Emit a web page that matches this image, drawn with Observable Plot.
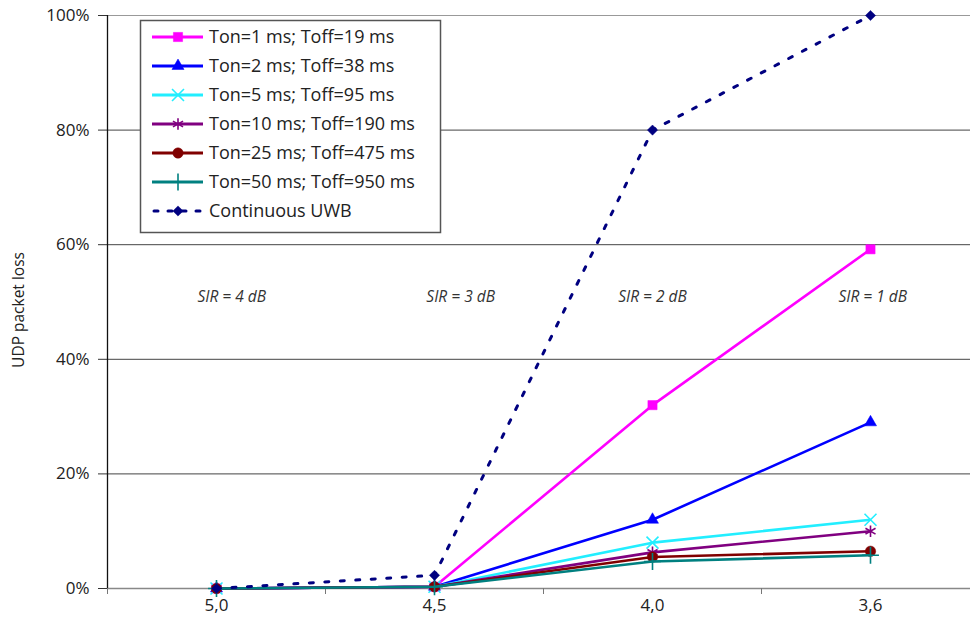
<!DOCTYPE html>
<html><head><meta charset="utf-8">
<script src="https://cdn.jsdelivr.net/npm/d3@7"></script>
<script src="https://cdn.jsdelivr.net/npm/@observablehq/plot@0.6"></script>
<style>
body{margin:0;background:#fff}
#chart{width:970px;height:637px;overflow:hidden}
</style>
</head><body><div id="chart"></div>
<script>
// ---- data ----
const xLabels = ["5,0", "4,5", "4,0", "3,6"];
const seriesNames = [
  "Ton=1 ms; Toff=19 ms",
  "Ton=2 ms; Toff=38 ms",
  "Ton=5 ms; Toff=95 ms",
  "Ton=10 ms; Toff=190 ms",
  "Ton=25 ms; Toff=475 ms",
  "Ton=50 ms; Toff=950 ms",
  "Continuous UWB"
];
const ton1  = [0, 0.003, 0.32, 0.592];
const ton2  = [0, 0.003, 0.12, 0.29];
const ton5  = [0, 0.003, 0.08, 0.12];
const ton10 = [0, 0.003, 0.063, 0.10];
const ton25 = [0, 0.003, 0.055, 0.065];
const ton50 = [0, 0.003, 0.047, 0.058];
const continuous = [0, 0.023, 0.80, 1.00];
const seriesValues = [ton1, ton2, ton5, ton10, ton25, ton50, continuous];
const sirLabels = ["SIR = 4 dB", "SIR = 3 dB", "SIR = 2 dB", "SIR = 1 dB"];
const sirX = [0.07, 0.12, 0.0, 0.01];
const sirY = 0.508;
const yTicks = [0, 0.2, 0.4, 0.6, 0.8, 1.0];

// ---- styles ----
const styles = [
  {color: "#FF00FF", symbol: "square",   filled: true,  r: 5.2, dash: null},
  {color: "#0000FF", symbol: "triangle", filled: true,  r: 4.5, dash: null},
  {color: "#22EEFF", symbol: "times",    filled: false, r: 5.5, dash: null},
  {color: "#800080", symbol: "asterisk", filled: false, r: 5.5, dash: null},
  {color: "#800000", symbol: "circle",   filled: true,  r: 5.2, dash: null},
  {color: "#008080", symbol: "plus",     filled: false, r: 5.5, dash: null},
  {color: "#000080", symbol: "diamond2", filled: true,  r: 4.6, dash: "4,11.5"}
];

const FONT = "'Open Sans', Lato, sans-serif";

const marks = [];
marks.push(Plot.ruleY(yTicks.filter(d => d > 0 && d < 1), {stroke: "#444", strokeWidth: 1}));
marks.push(Plot.ruleY([1], {stroke: "#999", strokeWidth: 1.2}));
marks.push(Plot.ruleY([0], {stroke: "#888", strokeWidth: 1.5}));
marks.push(Plot.axisY({ticks: yTicks, tickFormat: d3.format(".0%"), tickSize: 9, tickPadding: 9,
  fontSize: 17, stroke: "#333", fill: "#222", label: null}));
marks.push(Plot.ruleX([-0.5], {stroke: "#111", strokeWidth: 1.3}));
marks.push(Plot.axisX({ticks: [-0.5, 0.5, 1.5, 2.5, 3.5], tickSize: 6, tickFormat: () => "", stroke: "#777", label: null}));
marks.push(Plot.axisX({ticks: [0, 1, 2, 3], tickSize: 0, tickPadding: 10, tickFormat: i => xLabels[i], fontSize: 17, fill: "#222", label: null}));
marks.push(Plot.text(["UDP packet loss"], {frameAnchor: "left", dx: -88, dy: 8, rotate: -90, textAnchor: "middle", fontSize: 15.5, fill: "#222"}));
marks.push(Plot.text(sirLabels, {x: (d, i) => i + sirX[i], y: () => sirY, fontSize: 15.5, fontStyle: "italic", fill: "#333"}));

seriesValues.forEach((vals, s) => {
  const st = styles[s];
  const data = vals.map((v, i) => ({i, v}));
  marks.push(Plot.line(data, {x: "i", y: "v", stroke: st.color, strokeWidth: st.dash ? 3 : 2.6,
    strokeDasharray: st.dash, strokeLinecap: st.dash ? "round" : "butt"}));
  marks.push(Plot.dot(data, {x: "i", y: "v", symbol: () => st.symbol, r: st.r,
    fill: st.filled ? st.color : "none", stroke: st.color, strokeWidth: st.filled ? 0.5 : 1.6}));
});

const svg = Plot.plot({
  width: 970,
  height: 637,
  marginTop: 15,
  marginBottom: 49,
  marginLeft: 107,
  marginRight: 0,
  x: {type: "linear", domain: [-0.5, 3.5], range: [107, 979]},
  y: {domain: [0, 1], range: [588, 15]},
  style: {fontFamily: FONT, fontSize: "15px", color: "#333", background: "#fff"},
  marks
});

// ---- legend (inside plot area) ----
const g = d3.select(svg).append("g")
  .style("font-family", FONT).style("font-size", "18px").attr("text-anchor", "start");
g.append("rect").attr("x", 140.5).attr("y", 20.5).attr("width", 300).attr("height", 212)
  .attr("fill", "#fff").attr("stroke", "#555").attr("stroke-width", 1.5);
const symMap = {square: d3.symbolSquare, triangle: d3.symbolTriangle, times: d3.symbolTimes,
  asterisk: d3.symbolAsterisk, circle: d3.symbolCircle, plus: d3.symbolPlus, diamond2: d3.symbolDiamond2};
seriesNames.forEach((name, s) => {
  const st = styles[s];
  const y = 37 + s * 29;
  g.append("line").attr("x1", st.dash ? 154 : 152).attr("x2", 203).attr("y1", y).attr("y2", y)
    .attr("stroke", st.color).attr("stroke-width", 3)
    .attr("stroke-linecap", st.dash ? "round" : "butt")
    .attr("stroke-dasharray", st.dash ? "4,10" : null);
  g.append("path").attr("d", d3.symbol(symMap[st.symbol], Math.PI * st.r * st.r)())
    .attr("transform", `translate(178,${y})`)
    .attr("fill", st.filled ? st.color : "none").attr("stroke", st.color)
    .attr("stroke-width", st.filled ? 0.5 : 1.6);
  g.append("text").attr("x", 209).attr("y", y).attr("dy", "0.35em")
    .style("text-anchor", "start").attr("fill", "#222").text(name);
});

document.getElementById("chart").appendChild(svg);
</script>
</body></html>
